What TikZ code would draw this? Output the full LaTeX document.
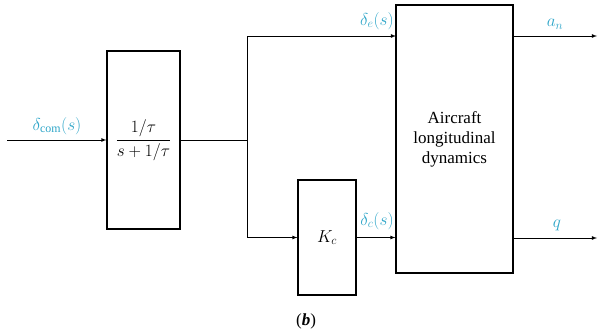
\documentclass[tikz,border=0pt]{standalone}
\usepackage{amsmath}
\usepackage{fontspec}
\setmainfont{Liberation Serif}
\usetikzlibrary{positioning}
\definecolor{signalbleu}{RGB}{45,165,200}
\tikzset{
bloc/.style={draw, line width=1.1pt, rectangle, align=center},
signal/.style={text=signalbleu},
fleche/.style={-latex, line width=0.8pt}
}
\begin{document}
\begin{tikzpicture}[x=1pt, y=-1pt, font=\fontsize{17}{20}\selectfont]
\useasboundingbox (0,0) rectangle (598,331);

% Blocs
\node[bloc, minimum width=73pt, minimum height=178pt]
(filtre) at (143.5,140)
{$\dfrac{1/\tau}{s+1/\tau}$};

\node[bloc, minimum width=58pt, minimum height=115pt]
(gain) at (327,237.5)
{$K_c$};

\node[bloc, minimum width=117pt, minimum height=268pt]
(avion) at (454.5,139)
{Aircraft\\longitudinal\\dynamics};

% Points de passage
\coordinate (entree) at (7,140);
\coordinate (branche) at (247,140);
\coordinate (entreeE) at (396,36);
\coordinate (sortieA) at (597,36);
\coordinate (sortieQ) at (597,238);

% Liaisons
\draw[fleche] (entree) -- (filtre.west);
\draw[line width=0.8pt] (filtre.east) -- (branche);
\draw[fleche] (branche) |- (entreeE);
\draw[fleche] (branche) |- (gain.west);
\draw[fleche] (gain.east) -- (gain.east -| avion.west);
\draw[fleche] (avion.east |- entreeE) -- (sortieA);
\draw[fleche] (avion.east |- sortieQ) -- (sortieQ);

% Etiquettes
\node[signal] (lcom) at (57,126) {$\delta_{\mathrm{com}}(s)$};
\node[signal] (le) at (377,21) {$\delta_e(s)$};
\node[signal] (lc) at (377,221) {$\delta_c(s)$};
\node[signal] (lan) at (555,24) {$a_n$};
\node[signal] (lq) at (557,225) {$q$};

\node (titre) at (306,321) {(\textbf{\textit{b}})};

\end{tikzpicture}
\end{document}
